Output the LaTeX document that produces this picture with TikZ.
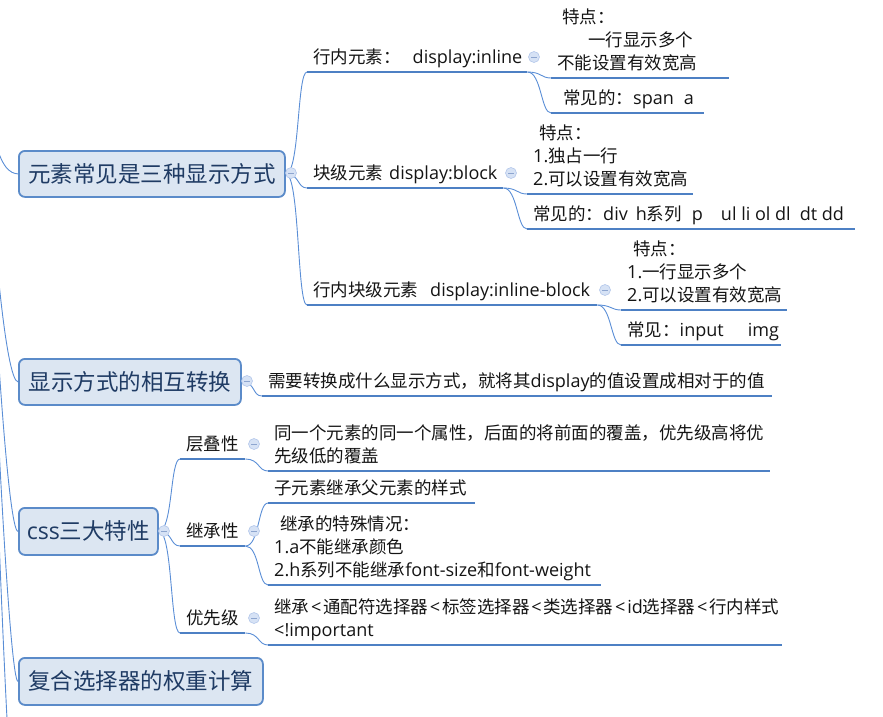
\documentclass[tikz,border=0pt]{standalone}
\usepackage{fontspec}
\setmainfont{Noto Sans CJK SC}
\newfontfamily\lat[Scale=1.03]{Open Sans}
\usetikzlibrary{calc}

\definecolor{boxfill}{HTML}{DCE6F2}
\definecolor{boxline}{HTML}{5B8BC9}
\definecolor{boxtext}{HTML}{1F3B64}
\definecolor{ulcolor}{HTML}{4D80C4}
\definecolor{linkcolor}{HTML}{5A8ED6}
\definecolor{foldfill}{HTML}{D6E2F5}
\definecolor{foldline}{HTML}{B3C7EA}
\definecolor{foldmark}{HTML}{8DA5CF}

% topic text: a left-aligned block as wide as its underline (minus padding),
% whose baseline is that of its last line
\newcommand\topictext[2]{\makebox[\dimexpr#1pt-12pt\relax][l]{\begin{tabular}[b]{@{}l@{}}#2\end{tabular}}}
% a "less than" sign with a little air around it
\newcommand\lessth{{\lat\hspace{1.8pt}<\hspace{1.8pt}}}

\tikzset{
  mainbox/.style={draw=boxline, line width=1.8pt, fill=boxfill, rounded corners=6pt,
    text=boxtext, font=\fontsize{22.5}{27}\selectfont, anchor=north west, inner sep=0pt},
  topic/.style={anchor=south west, inner xsep=6pt, inner ysep=0pt, text depth=8pt,
    font=\fontsize{17.5}{23.3}\selectfont, text=black!92},
  underline/.style={draw=ulcolor, line width=2.8pt},
  link/.style={draw=linkcolor, line width=0.9pt},
  fold/.style={circle, draw=foldline, fill=foldfill, line width=0.6pt, minimum size=11pt,
    inner sep=0pt, path picture={\draw[foldmark, line width=0.9pt]
      ([xshift=-2.8pt]path picture bounding box.center) --
      ([xshift=2.8pt]path picture bounding box.center);}},
}
\newcommand\linkto[2]{\draw[link] (#1) .. controls +(14,0) and +(-10,0) .. (#2);}

\begin{document}
\begin{tikzpicture}[x=1pt,y=-1pt]
\useasboundingbox (0,0) rectangle (883,716);
\clip (0,0) rectangle (883,716);

% ---------- first-level topics ----------
\node[mainbox, minimum width=266pt, minimum height=46pt] (b1) at (18,150) {元素常见是三种显示方式};
\node[mainbox, minimum width=222pt, minimum height=46pt] (b2) at (18,358) {显示方式的相互转换};
\node[mainbox, minimum width=139pt, minimum height=47pt] (b3) at (18,507) {{\lat css}三大特性};
\node[mainbox, minimum width=244pt, minimum height=47pt] (b4) at (18,657) {复合选择器的权重计算};

% ---------- second level ----------
\node[topic] (t11) at (307,72)  {\topictext{220}{行内元素：\hspace{12pt}{\lat display:inline}}};
\node[topic] (t12) at (307,188) {\topictext{196}{块级元素\hspace{6pt}{\lat display:block}}};
\node[topic] (t13) at (307,305) {\topictext{290}{行内块级元素\hspace{12pt}{\lat display:inline-block}}};
\node[topic] (t21) at (262,396) {\topictext{510}{需要转换成什么显示方式，就将其{\lat display}的值设置成相对于的值}};
\node[topic] (t31) at (180,459) {\topictext{65}{层叠性}};
\node[topic] (t32) at (180,546) {\topictext{65}{继承性}};
\node[topic] (t33) at (180,633) {\topictext{65}{优先级}};

% ---------- third level ----------
\node[topic] (t111) at (551,78)  {\topictext{178}{\hspace{5pt}特点：\\\hspace{31pt}一行显示多个\\不能设置有效宽高}};
\node[topic] (t112) at (551,113) {\topictext{153}{\hspace{6pt}常见的：{\lat span\hspace{10pt}a}}};
\node[topic] (t121) at (527,194) {\topictext{166}{\hspace{6pt}特点：\\{\lat 1.}独占一行\\{\lat 2.}可以设置有效宽高}};
\node[topic] (t122) at (527,229) {\topictext{328}{常见的：{\lat div\hspace{8pt}h}系列\hspace{10pt}{\lat p\hspace{18pt}ul li ol dl\hspace{9pt}dt dd}}};
\node[topic] (t131) at (621,310) {\topictext{166}{\hspace{6pt}特点：\\{\lat 1.}一行显示多个\\{\lat 2.}可以设置有效宽高}};
\node[topic] (t132) at (621,345) {\topictext{160}{常见：{\lat input\hspace{24pt}img}}};
\node[topic] (t311) at (268,471) {\topictext{502}{同一个元素的同一个属性，后面的将前面的覆盖，优先级高将优\\先级低的覆盖}};
\node[topic] (t321) at (268,503) {\topictext{207}{子元素继承父元素的样式}};
\node[topic] (t322) at (268,585) {\topictext{333}{\hspace{6pt}继承的特殊情况：\\{\lat 1.a}不能继承颜色\\{\lat 2.h}系列不能继承{\lat font-size}和{\lat font-weight}}};
\node[topic] (t331) at (268,645) {\topictext{514}{继承\lessth 通配符选择器\lessth 标签选择器\lessth 类选择器\lessth{\lat id}选择器\lessth 行内样式\\{\lat <!important}}};

% ---------- branches coming in from the central topic ----------
\coordinate (root) at (-20,-10);
\coordinate (next) at (18,850);
\draw[link] (root) .. controls (-14,150) and (2,173) .. (b1.west);
\draw[link] (root) .. controls (-10,230) and (6,381) .. (b2.west);
\draw[link] (root) .. controls (-8,300) and (8,531) .. (b3.west);
\draw[link] (root) .. controls (-6,400) and (10,681) .. (b4.west);
\draw[link] (root) .. controls (-4,500) and (10,850) .. (next);

% ---------- connectors ----------
\linkto{b1.east}{t11.south west}
\linkto{b1.east}{t12.south west}
\linkto{b1.east}{t13.south west}
\linkto{b2.east}{t21.south west}
\linkto{b3.east}{t31.south west}
\linkto{b3.east}{t32.south west}
\linkto{b3.east}{t33.south west}
\linkto{t11.south east}{t111.south west}
\linkto{t11.south east}{t112.south west}
\linkto{t12.south east}{t121.south west}
\linkto{t12.south east}{t122.south west}
\linkto{t13.south east}{t131.south west}
\linkto{t13.south east}{t132.south west}
\linkto{t31.south east}{t311.south west}
\linkto{t32.south east}{t321.south west}
\linkto{t32.south east}{t322.south west}
\linkto{t33.south east}{t331.south west}

% ---------- underlines of the topics ----------
\foreach \n in {t11,t12,t13,t21,t31,t32,t33,t111,t112,t121,t122,t131,t132,t311,t321,t322,t331}
  \draw[underline] (\n.south west) -- (\n.south east);

% ---------- collapse buttons ----------
\node[fold] (f1)  at (291,173) {};
\node[fold] (f11) at (534,57)  {};
\node[fold] (f12) at (511,173) {};
\node[fold] (f13) at (605,290) {};
\node[fold] (f2)  at (247,381) {};
\node[fold] (f3)  at (164,531) {};
\node[fold] (f31) at (254,444) {};
\node[fold] (f32) at (254,531) {};
\node[fold] (f33) at (254,618) {};
\end{tikzpicture}
\end{document}
